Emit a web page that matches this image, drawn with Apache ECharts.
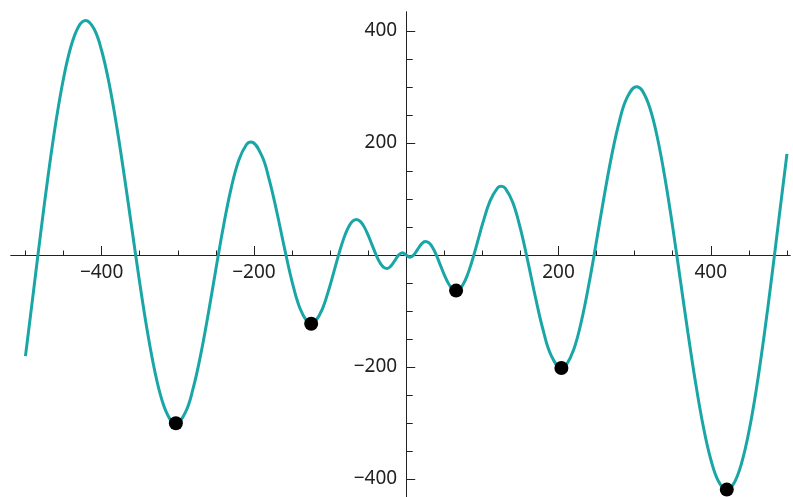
<!DOCTYPE html>
<html>
<head>
<meta charset="utf-8">
<script src="https://cdn.jsdelivr.net/npm/echarts@6/dist/echarts.min.js"></script>
<style>
html,body{margin:0;padding:0;background:#fff;}
#c{width:793px;height:497px;}
</style>
</head>
<body>
<div id="c"></div>
<script>
// curve samples
var xValues = [-500,-490,-480,-470,-460,-450,-440,-430,-421,-410,-400,-390,-380,-370,-360,-350,-340,-330,-320,-310,-302.5,-290,-280,-270,-260,-250,-240,-230,-220,-210,-203.8,-190,-180,-170,-160,-150,-140,-130,-124.8,-120,-110,-100,-95,-90,-85,-80,-75,-70,-65,-60,-55,-50,-45,-40,-35,-30,-25,-20,-15,-10,-5,0,5,10,15,20,25,30,35,40,45,50,55,60,65,70,75,80,85,90,95,100,110,120,124.8,130,140,150,160,170,180,190,203.8,210,220,230,240,250,260,270,280,290,302.5,310,320,330,340,350,360,370,380,390,400,410,421,430,440,450,460,470,480,490,500];
var yValues = [-180.6,-70.7,39.5,144.1,237.9,315.8,373.7,408.7,419.0,404.0,365.2,305.3,228.2,139.2,44.6,-49.3,-135.7,-208.5,-262.4,-293.5,-300.5,-281.0,-239.3,-178.8,-105.2,-25.8,51.5,118.7,168.9,196.9,201.8,178.3,135.2,77.3,13.2,-47.0,-93.8,-119.4,-122.9,-119.9,-96.1,-54.4,-30.1,-5.6,17.3,37.0,51.9,61.0,63.6,59.6,49.8,35.4,18.6,1.7,-12.6,-21.6,-24.0,-19.4,-10.0,-0.2,3.9,0,-3.9,0.2,10.0,19.4,24.0,21.6,12.6,-1.7,-18.6,-35.4,-49.8,-59.6,-63.6,-61.0,-51.9,-37.0,-17.3,5.6,30.1,54.4,96.1,119.9,122.9,119.4,93.8,47.0,-13.2,-77.3,-135.2,-178.3,-201.8,-196.9,-168.9,-118.7,-51.5,25.8,105.2,178.8,239.3,281.0,300.5,293.5,262.4,208.5,135.7,49.3,-44.6,-139.2,-228.2,-305.3,-365.2,-404.0,-419.0,-408.7,-373.7,-315.8,-237.9,-144.1,-39.5,70.7,180.6];
// marked minima
var dotX = [-302.5,-124.8,65.5,203.8,421.0];
var dotY = [-300.5,-122.9,-63.6,-201.8,-419.0];
// ticks
var xMajorTicks = [-400,-200,200,400];
var xMinorTicks = [-500,-450,-350,-300,-250,-150,-100,-50,50,100,150,250,300,350,450,500];
var yMajorTicks = [-400,-200,200,400];
var yMinorTicks = [-350,-300,-250,-150,-100,-50,50,100,150,250,300,350];

var curve = xValues.map(function(x,i){return [x,yValues[i]];});
var dots = dotX.map(function(x,i){return [x,dotY[i]];});

function fmt(v){ return v < 0 ? '\u2212' + Math.abs(v) : String(v); }
var axisColor = '#222';
var labelStyle = {fontFamily:'Noto Sans', fontSize:19, color:'#222'};

var X_MIN = -519, X_MAX = 504, Y_MIN = -434, Y_MAX = 434;
var G_LEFT = 11, G_TOP = 12, G_W = 779, G_H = 486;
// axis offsets so that the axes cross at the data origin
var yOff = -(0 - X_MIN) / (X_MAX - X_MIN) * G_W;
var xOff = -(0 - Y_MIN) / (Y_MAX - Y_MIN) * G_H;

function xAxisDef(ticks, len, labels){
  return {
    type:'value', min:X_MIN, max:X_MAX, position:'bottom', offset:xOff,
    axisLine:{show:true, onZero:false, lineStyle:{color:axisColor,width:1}},
    axisTick:{show:true, inside:true, length:len, customValues:ticks, lineStyle:{color:axisColor,width:1}},
    axisLabel:labels ? Object.assign({show:true, margin:8, customValues:ticks, formatter:fmt}, labelStyle) : {show:false},
    splitLine:{show:false}, minorTick:{show:false}
  };
}
function yAxisDef(ticks, len, labels){
  return {
    type:'value', min:Y_MIN, max:Y_MAX, position:'left', offset:yOff,
    axisLine:{show:true, onZero:false, lineStyle:{color:axisColor,width:1}},
    axisTick:{show:true, inside:true, length:len, customValues:ticks, lineStyle:{color:axisColor,width:1}},
    axisLabel:labels ? Object.assign({show:true, margin:9, customValues:ticks, formatter:fmt}, labelStyle) : {show:false},
    splitLine:{show:false}, minorTick:{show:false}
  };
}

var chart = echarts.init(document.getElementById('c'), null, {renderer:'canvas'});
chart.setOption({
  animation:false,
  backgroundColor:'#fff',
  grid:{left:G_LEFT, top:G_TOP, width:G_W, height:G_H, containLabel:false, outerBoundsMode:'none'},
  xAxis:[xAxisDef(xMajorTicks, 9, true), xAxisDef(xMinorTicks, 4.5, false)],
  yAxis:[yAxisDef(yMajorTicks, 9, true), yAxisDef(yMinorTicks, 6.5, false)],
  series:[
    {type:'line', data:curve, xAxisIndex:0, yAxisIndex:0, showSymbol:false, smooth:0.4,
     lineStyle:{color:'#1aa6a6', width:3}, itemStyle:{color:'#1aa6a6'}, z:2, clip:false},
    {type:'scatter', data:dots, xAxisIndex:0, yAxisIndex:0, symbol:'circle', symbolSize:14,
     itemStyle:{color:'#000', opacity:1}, z:3, clip:false}
  ]
});
</script>
</body>
</html>
